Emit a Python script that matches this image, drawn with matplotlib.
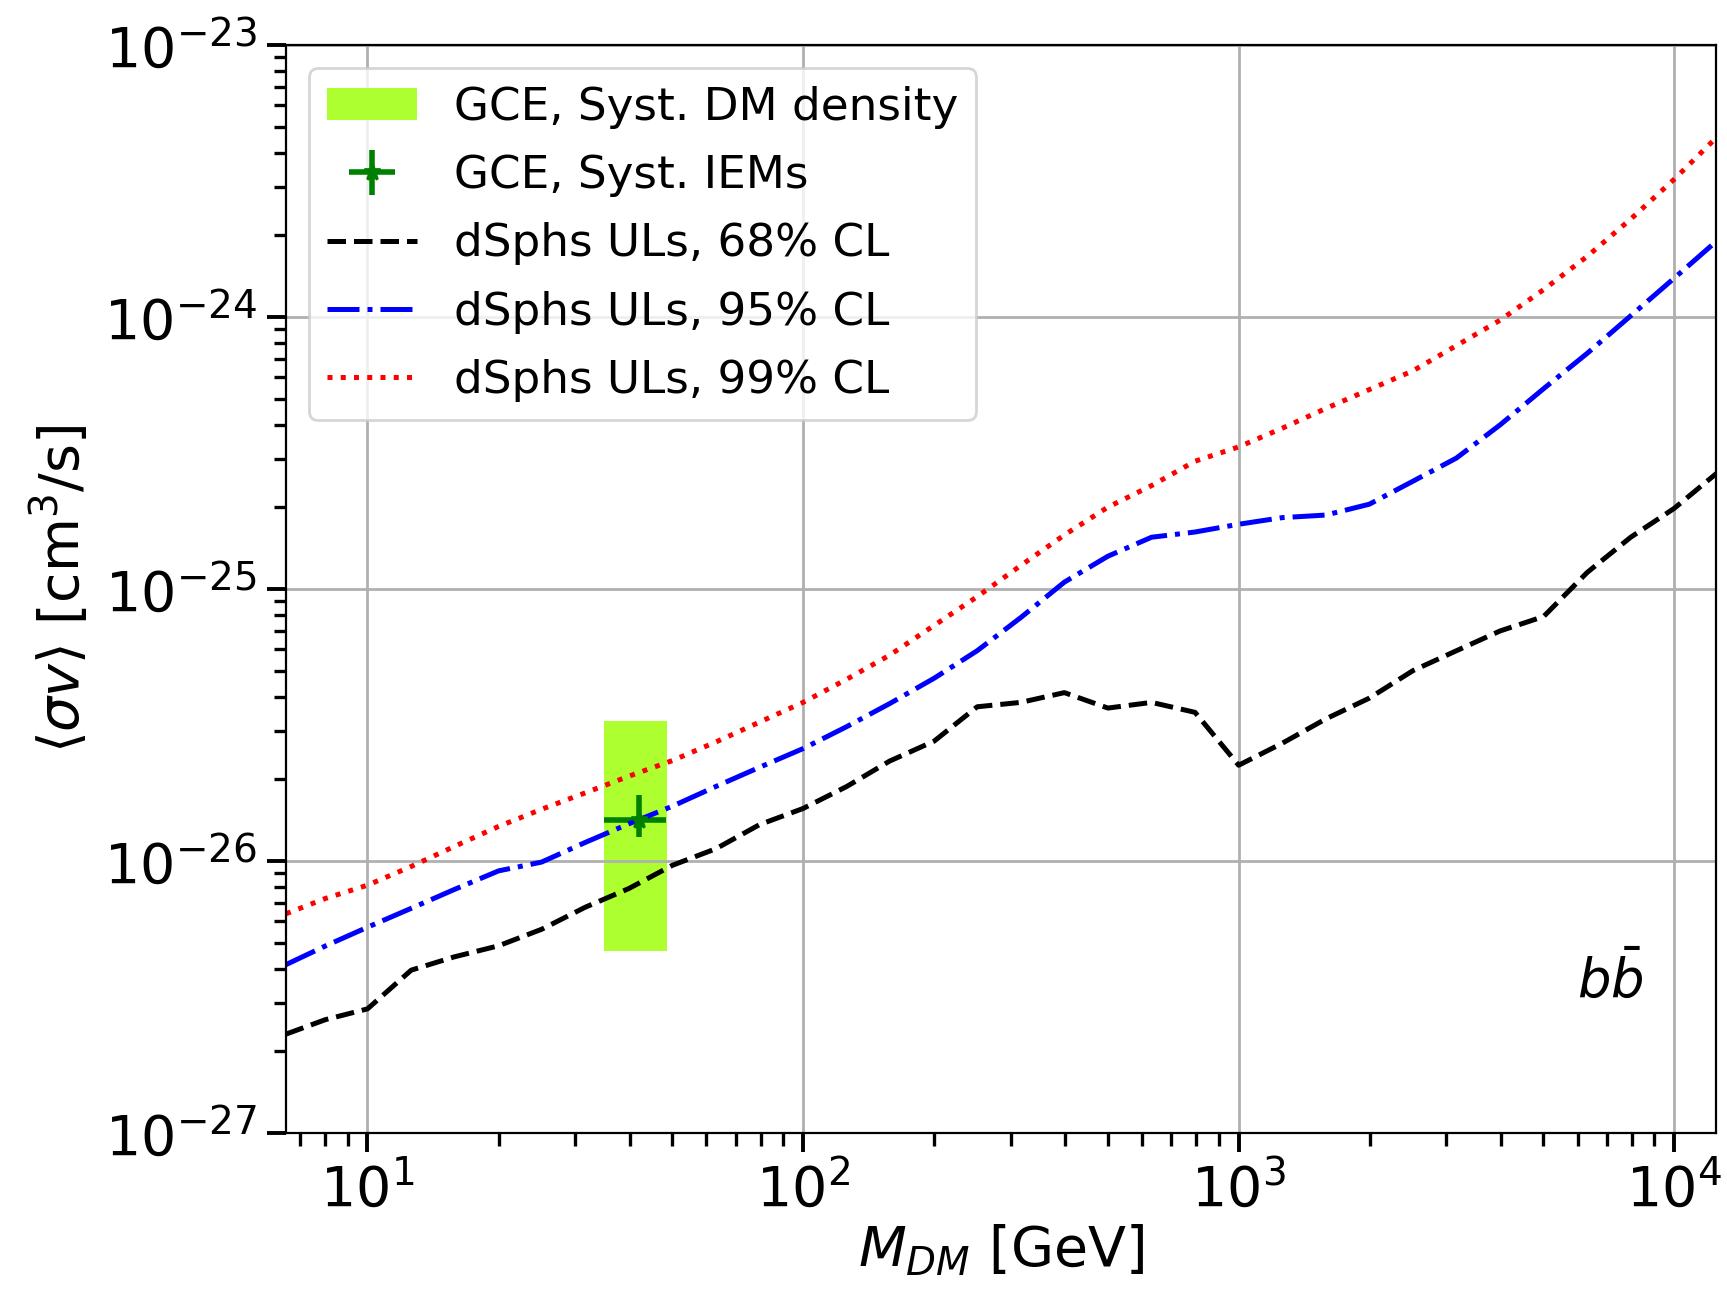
import matplotlib
matplotlib.use('Agg')
import matplotlib.pyplot as plt

# DM masses [GeV]
mass = [6.5, 8, 10, 12.6, 15.8, 20, 25.1, 31.6, 39.8, 50.1, 63.1, 79.4,
        100, 126, 158, 200, 251, 316, 398, 501, 631, 794,
        1000, 1259, 1585, 1995, 2512, 3162, 3981, 5012, 6310, 7943, 10000, 12500]

# dSphs upper limits <sigma v> [cm^3/s]
ul68 = [2.31e-27, 2.61e-27, 2.86e-27, 3.97e-27, 4.44e-27, 4.88e-27, 5.61e-27, 6.76e-27,
        7.92e-27, 9.64e-27, 1.11e-26, 1.36e-26, 1.56e-26, 1.88e-26, 2.33e-26, 2.76e-26,
        3.69e-26, 3.83e-26, 4.16e-26, 3.65e-26, 3.83e-26, 3.52e-26, 2.25e-26, 2.71e-26,
        3.33e-26, 3.97e-26, 5.01e-26, 5.93e-26, 7.01e-26, 7.92e-26, 1.15e-25, 1.55e-25,
        1.98e-25, 2.66e-25]
ul95 = [4.16e-27, 4.87e-27, 5.71e-27, 6.70e-27, 7.85e-27, 9.20e-27, 9.91e-27, 1.17e-26,
        1.37e-26, 1.59e-26, 1.88e-26, 2.21e-26, 2.59e-26, 3.12e-26, 3.79e-26, 4.70e-26,
        5.93e-26, 7.85e-26, 1.06e-25, 1.32e-25, 1.55e-25, 1.62e-25, 1.73e-25, 1.83e-25,
        1.87e-25, 2.05e-25, 2.49e-25, 3.03e-25, 4.01e-25, 5.45e-25, 7.35e-25, 1.01e-24,
        1.39e-24, 1.90e-24]
ul99 = [6.40e-27, 7.28e-27, 8.15e-27, 9.55e-27, 1.13e-26, 1.34e-26, 1.55e-26, 1.78e-26,
        2.05e-26, 2.34e-26, 2.74e-26, 3.24e-26, 3.83e-26, 4.66e-26, 5.71e-26, 7.35e-26,
        9.37e-26, 1.22e-25, 1.58e-25, 2.00e-25, 2.40e-25, 2.95e-25, 3.33e-25, 3.90e-25,
        4.61e-25, 5.41e-25, 6.34e-25, 7.85e-25, 9.73e-25, 1.26e-24, 1.67e-24, 2.29e-24,
        3.21e-24, 4.57e-24]

# GCE best fit with systematics
gce_mass = 42.1
gce_sv = 1.41e-26
gce_mass_range = [35.0, 48.4]        # IEM systematics (mass)
gce_sv_range = [1.23e-26, 1.75e-26]  # IEM systematics (sigma v)
dm_box_mass = [34.9, 48.6]           # DM density systematics
dm_box_sv = [4.68e-27, 3.27e-26]

plt.rcParams['font.size'] = 16

fig = plt.figure(figsize=(1727 / 200., 1289 / 200.), dpi=200)
ax = fig.add_axes([0.1656, 0.1210, 0.8283, 0.8441])

box = ax.fill_between(dm_box_mass, [dm_box_sv[0]] * 2, [dm_box_sv[1]] * 2,
                      color='greenyellow', lw=0, label='GCE, Syst. DM density')
eb = ax.errorbar([gce_mass], [gce_sv],
                 xerr=[[gce_mass - gce_mass_range[0]], [gce_mass_range[1] - gce_mass]],
                 yerr=[[gce_sv - gce_sv_range[0]], [gce_sv_range[1] - gce_sv]],
                 fmt='*', color='green', ms=6, elinewidth=2, capsize=0,
                 label='GCE, Syst. IEMs')
l68, = ax.plot(mass, ul68, 'k--', lw=1.8, label='dSphs ULs, 68% CL')
l95, = ax.plot(mass, ul95, 'b-.', lw=1.8, label='dSphs ULs, 95% CL')
l99, = ax.plot(mass, ul99, 'r:', lw=1.8, label='dSphs ULs, 99% CL')

ax.set_xscale('log')
ax.set_yscale('log')
ax.set_xlim(6.5, 12500)
ax.set_ylim(1e-27, 1e-23)
ax.grid(True, which='major', color='#b0b0b0', lw=1.0)
ax.tick_params(which='major', length=7, width=1.4, labelsize=20)
ax.tick_params(which='minor', length=4.5, width=1.2)

ax.set_xlabel(r'$M_{DM}$ [GeV]', fontsize=20, labelpad=2)
ax.set_ylabel(r'$\langle \sigma v \rangle$ [cm$^3$/s]', fontsize=20)
ax.text(0.926, 0.141, r'$b\bar{b}$', transform=ax.transAxes,
        fontsize=19, ha='center', va='center')

ax.legend([box, eb, l68, l95, l99],
          [h.get_label() for h in (box, eb, l68, l95, l99)],
          loc='upper left', fontsize=16.3, labelspacing=0.56)

fig.savefig('out.png', dpi=200)
